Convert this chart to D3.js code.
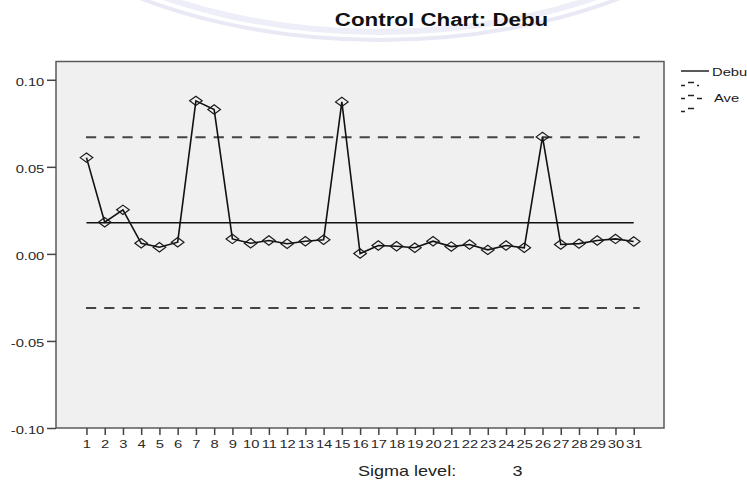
<!DOCTYPE html>
<html>
<head>
<meta charset="utf-8">
<script src="https://cdn.jsdelivr.net/npm/d3@7"></script>
<style>
  html, body { margin: 0; padding: 0; background: #fff; }
  svg { display: block; }
  text { font-family: "Liberation Sans", Arial, sans-serif; }
</style>
</head>
<body>
<svg id="chart" width="747" height="481"></svg>
<script>
// ---------------- DATA ----------------
const categories = d3.range(1, 32);               // subgroup numbers 1..31
const values = [0.0553, 0.0182, 0.0253, 0.0061, 0.0038, 0.0067, 0.0879, 0.0829,
                0.0086, 0.0061, 0.0077, 0.0058, 0.0073, 0.0081, 0.0873, 0.0002,
                0.0048, 0.0044, 0.0035, 0.0073, 0.0042, 0.0054, 0.0023, 0.0048,
                0.0035, 0.0672, 0.0054, 0.0059, 0.0077, 0.0086, 0.0071];
const centerValue = 0.0179;
const uclValue = 0.0670;
const lclValue = -0.0311;
const yTickValues = [-0.10, -0.05, 0.00, 0.05, 0.10];
const yTickLabels = ["-0.10", "-0.05", "0.00", "0.05", "0.10"];
const titleText = "Control Chart: Debu";
const sigmaLabel = "Sigma level:";
const sigmaValue = "3";
const legendLabels = ["Debu", "Ave"];

// ---------------- LAYOUT ----------------
const SX = 1.27;   // horizontal stretch of the reference's text
const plot = { left: 56, right: 664, top: 61.5, bottom: 428 };
const svg = d3.select("#chart");

// watermark (faint seal at top)
const wm = svg.append("g").attr("fill", "none");
wm.append("ellipse").attr("cx", 380).attr("cy", -200).attr("rx", 425).attr("ry", 240)
  .attr("stroke", "#e9e9f6").attr("stroke-width", 4);
wm.append("ellipse").attr("cx", 380).attr("cy", -200).attr("rx", 410).attr("ry", 232)
  .attr("stroke", "#eeeef8").attr("stroke-width", 6);

const x = d3.scaleLinear().domain([1 - 1.67, 31 + 1.66]).range([plot.left, plot.right]);
const y = d3.scaleLinear().domain([-0.10, 0.1105]).range([plot.bottom, plot.top]);

// plot background + border
svg.append("rect")
  .attr("x", plot.left).attr("y", plot.top)
  .attr("width", plot.right - plot.left).attr("height", plot.bottom - plot.top)
  .attr("fill", "#f0f0f0").attr("stroke", "#5a5a5a").attr("stroke-width", 1.5);

// control limit lines
const lineX0 = x(categories[0]), lineX1 = x(categories[categories.length - 1]);
const step = x(2) - x(1);
[uclValue, lclValue].forEach(v => {
  svg.append("line")
    .attr("x1", lineX0 - 0.5).attr("x2", lineX1 + 6).attr("y1", y(v)).attr("y2", y(v))
    .attr("stroke", "#444").attr("stroke-width", 2)
    .attr("stroke-dasharray", `${step * 0.56},${step * 0.44}`);
});
svg.append("line")
  .attr("x1", lineX0).attr("x2", lineX1).attr("y1", y(centerValue)).attr("y2", y(centerValue))
  .attr("stroke", "#111").attr("stroke-width", 1.5);

// data line
const pts = categories.map((c, i) => [c, values[i]]);
svg.append("path")
  .datum(pts)
  .attr("fill", "none").attr("stroke", "#111").attr("stroke-width", 1.6)
  .attr("d", d3.line().x(d => x(d[0])).y(d => y(d[1])));

// diamond markers
svg.append("g").selectAll("path").data(pts).join("path")
  .attr("transform", d => `translate(${x(d[0])},${y(d[1])})`)
  .attr("d", "M-6.3,0L0,-4.7L6.3,0L0,4.7Z")
  .attr("fill", "none").attr("stroke", "#1a1a1a").attr("stroke-width", 1.2);

// y axis
const yAxis = svg.append("g").attr("transform", `translate(${plot.left},0)`)
  .call(d3.axisLeft(y).tickValues(yTickValues)
    .tickFormat((d, i) => yTickLabels[i]).tickSize(9).tickSizeOuter(0));
yAxis.select(".domain").remove();
yAxis.selectAll(".tick line").attr("stroke", "#444").attr("stroke-width", 1.5);
yAxis.selectAll(".tick text")
  .attr("x", null).attr("dy", "0.5em")
  .attr("transform", `translate(-11.7,0) scale(${SX},1)`)
  .attr("font-size", 11.6).attr("fill", "#2a2a2a").attr("font-family", null);

// x axis
const xAxis = svg.append("g").attr("transform", `translate(0,${plot.bottom})`)
  .call(d3.axisBottom(x).tickValues(categories).tickFormat(d3.format("d")).tickSize(7).tickSizeOuter(0));
xAxis.select(".domain").remove();
xAxis.selectAll(".tick line").attr("stroke", "#444").attr("stroke-width", 1.5);
xAxis.selectAll(".tick text")
  .attr("y", null).attr("dy", null)
  .attr("transform", `translate(0,20.3) scale(${SX},1)`)
  .attr("font-size", 11.6).attr("fill", "#2a2a2a").attr("font-family", null);

// helper for stretched text
function stext(str, tx, ty, size, opts = {}) {
  return svg.append("text")
    .attr("transform", `translate(${tx},${ty}) scale(${SX},1)`)
    .attr("font-size", size)
    .attr("font-weight", opts.weight || "normal")
    .attr("text-anchor", opts.anchor || "start")
    .attr("fill", opts.fill || "#1a1a1a")
    .text(str);
}

// title
stext(titleText, 441.5, 26, 17.6, { weight: "bold", anchor: "middle", fill: "#111" });

// sigma level footnote
stext(sigmaLabel, 358, 476, 14.2, { fill: "#222" });
stext(sigmaValue, 512.5, 476, 14.2, { fill: "#222" });

// legend
const lg = svg.append("g").attr("stroke", "#222").attr("stroke-width", 1.5);
lg.append("line").attr("x1", 681).attr("x2", 709).attr("y1", 71).attr("y2", 71);
// broken dashed samples (rows 2..4)
[[84, true], [97, false], [110, null]].forEach(([ry, kind]) => {
  lg.append("line").attr("x1", 681).attr("x2", 685).attr("y1", ry + 1.5).attr("y2", ry + 1.5);
  lg.append("line").attr("x1", 688).attr("x2", 694).attr("y1", ry - 1.5).attr("y2", ry - 1.5);
  if (kind === true) lg.append("line").attr("x1", 697).attr("x2", 699).attr("y1", ry + 1.5).attr("y2", ry + 1.5);
  if (kind === false) lg.append("line").attr("x1", 697).attr("x2", 702).attr("y1", ry + 1.5).attr("y2", ry + 1.5);
});
stext(legendLabels[0], 712, 75.5, 11.6);
stext(legendLabels[1], 714, 101.5, 11.6);
</script>
</body>
</html>
